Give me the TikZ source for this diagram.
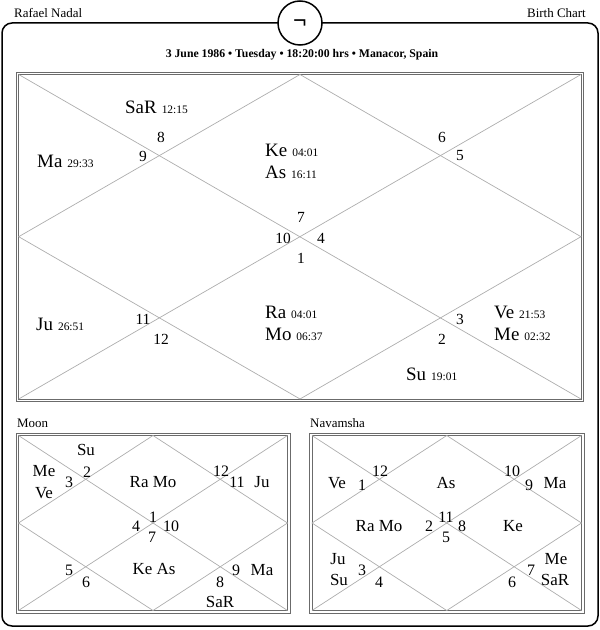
\documentclass[tikz,border=0pt]{standalone}
\usepackage{fontspec}
\setmainfont{Liberation Serif}
\newcommand{\pdeg}[1]{\hspace{5bp}{\fontsize{11.5}{13}\selectfont #1}}
\tikzset{
  chartline/.style={draw=black!32, line width=0.7bp},
  chartframe/.style={draw=black!58, line width=0.9bp},
  houseno/.style={inner sep=0pt, font=\fontsize{15.5}{17}\selectfont},
  smallno/.style={inner sep=0pt, font=\fontsize{16}{18}\selectfont},
  planet/.style={inner sep=0pt, anchor=west, font=\fontsize{19}{21}\selectfont},
  smallplanet/.style={inner sep=0pt, font=\fontsize{17}{19}\selectfont},
  caption/.style={inner sep=0pt, anchor=base west, font=\fontsize{13}{15}\selectfont},
}
\begin{document}
\begin{tikzpicture}[x=1bp, y=-1bp]
            \useasboundingbox (0,0) rectangle (600,630);
            
            % Drawing outer card and logo circle
            \draw [line width=1.5bp, rounded corners=10bp] (2,23) rectangle (598,626);%
            \draw [line width=1.5bp, fill=white] (300,23) circle (22);%
            \node [inner sep=0pt, font=\fontsize{24}{26}\selectfont\bfseries] (logo) at (300,24) {¬};%
            
            % Marking titles
            \node [caption] (name) at (14,18) {Rafael Nadal};%
            \node [caption, anchor=base east] (kind) at (586,18) {Birth Chart};%
            \node [inner sep=0pt, font=\fontsize{11.8}{14}\selectfont\bfseries] (data) at (302,55)
              {3 June 1986 • Tuesday • 18:20:00 hrs • Manacor, Spain};%
            
            % Drawing frame of main chart
            \draw [chartframe] (16,72) rectangle (583.5,401.5);%
            \draw [chartframe] (18.7,74.5) rectangle (581,399);%
            
            % Drawing diagonals and diamond of main chart
            \draw [chartline] (18.7,74.5) -- (581,399);%
            \draw [chartline] (581,74.5) -- (18.7,399);%
            \draw [chartline] (300,74.5) -- (581,236.7) -- (300,399) -- (18.7,236.7) -- cycle;%
            
            % Marking houses of main chart
            \node [houseno] (mh1) at (301,258) {1};%
            \node [houseno] (mh2) at (442,339) {2};%
            \node [houseno] (mh3) at (460,319) {3};%
            \node [houseno] (mh4) at (321,238) {4};%
            \node [houseno] (mh5) at (460,156) {5};%
            \node [houseno] (mh6) at (442,137) {6};%
            \node [houseno] (mh7) at (301,217) {7};%
            \node [houseno] (mh8) at (161,137) {8};%
            \node [houseno] (mh9) at (143,156) {9};%
            \node [houseno] (mh10) at (283,238) {10};%
            \node [houseno] (mh11) at (143,319) {11};%
            \node [houseno] (mh12) at (161,339) {12};%
            
            % Marking planets of main chart
            \node [planet] (msa) at (125,107) {SaR\pdeg{12:15}};%
            \node [planet] (mma) at (37,161) {Ma\pdeg{29:33}};%
            \node [planet] (mke) at (265,150) {Ke\pdeg{04:01}};%
            \node [planet] (mas) at (265,172) {As\pdeg{16:11}};%
            \node [planet] (mju) at (36,324) {Ju\pdeg{26:51}};%
            \node [planet] (mra) at (265,312) {Ra\pdeg{04:01}};%
            \node [planet] (mmo) at (265,334) {Mo\pdeg{06:37}};%
            \node [planet] (mve) at (494,312) {Ve\pdeg{21:53}};%
            \node [planet] (mme) at (494,334) {Me\pdeg{02:32}};%
            \node [planet] (msu) at (406,374) {Su\pdeg{19:01}};%
            
            % Drawing Moon chart
            \node [caption] (mooncap) at (17,427) {Moon};%
            \draw [chartframe] (16,433) rectangle (290,613);%
            \draw [chartframe] (18.5,435.5) rectangle (287.5,610.5);%
            \draw [chartline] (18.5,435.5) -- (287.5,610.5);%
            \draw [chartline] (287.5,435.5) -- (18.5,610.5);%
            \draw [chartline] (153,435.5) -- (287.5,523) -- (153,610.5) -- (18.5,523) -- cycle;%
            
            \node [smallno] (oh1) at (153,517) {1};%
            \node [smallno] (oh2) at (87,472) {2};%
            \node [smallno] (oh3) at (69,482) {3};%
            \node [smallno] (oh4) at (136,526) {4};%
            \node [smallno] (oh5) at (69,570) {5};%
            \node [smallno] (oh6) at (86,582) {6};%
            \node [smallno] (oh7) at (152,537) {7};%
            \node [smallno] (oh8) at (220,582) {8};%
            \node [smallno] (oh9) at (236,570) {9};%
            \node [smallno] (oh10) at (171,526) {10};%
            \node [smallno] (oh11) at (237,482) {11};%
            \node [smallno] (oh12) at (221,471) {12};%
            
            \node [smallplanet] (osu) at (86,450) {Su};%
            \node [smallplanet] (ome) at (44,471) {Me};%
            \node [smallplanet] (ove) at (44,493) {Ve};%
            \node [smallplanet] (orm) at (153,482) {Ra Mo};%
            \node [smallplanet] (oju) at (262,482) {Ju};%
            \node [smallplanet] (oka) at (154,569) {Ke As};%
            \node [smallplanet] (oma) at (262,570) {Ma};%
            \node [smallplanet] (osa) at (220,602) {SaR};%
            
            % Drawing Navamsha chart
            \node [caption] (navcap) at (310,427) {Navamsha};%
            \draw [chartframe] (309.5,433) rectangle (584,613);%
            \draw [chartframe] (312,435.5) rectangle (581.5,610.5);%
            \draw [chartline] (312,435.5) -- (581.5,610.5);%
            \draw [chartline] (581.5,435.5) -- (312,610.5);%
            \draw [chartline] (446.75,435.5) -- (581.5,523) -- (446.75,610.5) -- (312,523) -- cycle;%
            
            \node [smallno] (nh1) at (362,485) {1};%
            \node [smallno] (nh2) at (429,526) {2};%
            \node [smallno] (nh3) at (362,570) {3};%
            \node [smallno] (nh4) at (379,582) {4};%
            \node [smallno] (nh5) at (446,537) {5};%
            \node [smallno] (nh6) at (512,582) {6};%
            \node [smallno] (nh7) at (531,570) {7};%
            \node [smallno] (nh8) at (462,526) {8};%
            \node [smallno] (nh9) at (529,485) {9};%
            \node [smallno] (nh10) at (512,471) {10};%
            \node [smallno] (nh11) at (446,517) {11};%
            \node [smallno] (nh12) at (380,471) {12};%
            
            \node [smallplanet] (nve) at (337,483) {Ve};%
            \node [smallplanet] (nas) at (446,483) {As};%
            \node [smallplanet] (nma) at (555,483) {Ma};%
            \node [smallplanet] (nrm) at (379,526) {Ra Mo};%
            \node [smallplanet] (nke) at (513,526) {Ke};%
            \node [smallplanet] (nju) at (338,559) {Ju};%
            \node [smallplanet] (nsu) at (339,580) {Su};%
            \node [smallplanet] (nme) at (556,559) {Me};%
            \node [smallplanet] (nsa) at (555,580) {SaR};%
        \end{tikzpicture}
\end{document}
